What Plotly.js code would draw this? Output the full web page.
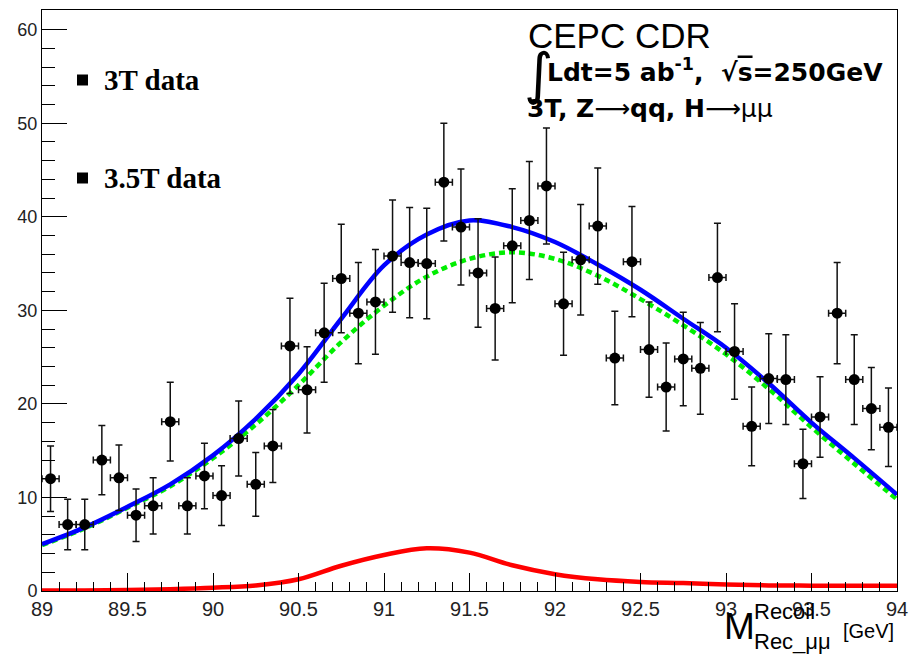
<!DOCTYPE html>
<html>
<head>
<meta charset="utf-8">
<script src="https://cdn.plot.ly/plotly-3.0.1.min.js"></script>
<style>html,body{margin:0;padding:0;background:#fff;}#chart{width:913px;height:656px;}</style>
</head>
<body>
<div id="chart"></div>
<script>
// ---- data: bin centres and counts ----
const binCenters = [89.05,89.15,89.25,89.35,89.45,89.55,89.65,89.75,89.85,89.95,
  90.05,90.15,90.25,90.35,90.45,90.55,90.65,90.75,90.85,90.95,
  91.05,91.15,91.25,91.35,91.45,91.55,91.65,91.75,91.85,91.95,
  92.05,92.15,92.25,92.35,92.45,92.55,92.65,92.75,92.85,92.95,
  93.05,93.15,93.25,93.35,93.45,93.55,93.65,93.75,93.85,93.95];
const counts = [12.0,7.1,7.1,14.0,12.1,8.1,9.1,18.1,9.1,12.3,
  10.2,16.3,11.4,15.5,26.2,21.5,27.6,33.4,29.7,30.9,
  35.8,35.1,35.0,43.7,38.9,34.0,30.2,36.9,39.6,43.3,
  30.7,35.4,39.0,24.9,35.2,25.8,21.8,24.8,23.8,33.5,
  25.6,17.6,22.7,22.6,13.6,18.6,29.7,22.6,19.5,17.5];
const countErrors = [3.5,2.7,2.7,3.7,3.5,2.8,3.0,4.2,3.0,3.5,
  3.2,4.0,3.4,3.9,5.1,4.6,5.3,5.8,5.4,5.6,
  6.0,5.9,5.9,6.3,6.2,5.8,5.5,6.1,6.3,6.2,
  5.5,5.9,6.2,5.0,5.9,5.1,4.7,5.0,4.9,5.8,
  5.1,4.2,4.8,4.8,3.7,4.3,5.4,4.8,4.4,4.2];
const binHalfWidth = [0.05];

// ---- fit curves ----
const curveX = [89.0,89.25,89.5,89.75,90.0,90.25,90.5,90.75,91.0,91.25,91.5,
  91.75,92.0,92.25,92.5,92.75,93.0,93.25,93.5,93.75,94.0];
const totalFit = [5.0,6.8,9.0,11.4,14.5,18.4,23.2,29.1,34.8,38.1,39.6,
  38.9,37.3,34.9,32.2,29.1,26.0,22.2,18.0,14.2,10.3];
const backgroundFit = [4.9,6.7,8.9,11.2,14.2,17.8,22.0,26.6,30.5,33.6,35.5,
  36.2,35.5,33.7,31.2,28.4,25.3,21.6,17.5,13.6,9.8];
const signalFit = [0.05,0.05,0.1,0.2,0.35,0.6,1.25,2.7,3.85,4.56,4.1,
  2.75,1.8,1.25,0.97,0.85,0.7,0.6,0.57,0.55,0.55];

const legendLabels = ["3T data", "3.5T data"];
const xTickVals = [89,89.5,90,90.5,91,91.5,92,92.5,93,93.5,94];
const xTickText = ["89","89.5","90","90.5","91","91.5","92","92.5","93","93.5","94"];

// ---- geometry helpers (pixel -> paper) ----
const L = 42, R = 897, T = 10, B = 591;
const px = x => (x - L) / (R - L);
const py = y => (B - y) / (B - T);

const traces = [
  { x: curveX, y: signalFit, mode: 'lines', line: {color: '#ff0000', width: 4.5, shape: 'spline'}, hoverinfo: 'skip', showlegend: false },
  { x: curveX, y: backgroundFit, mode: 'lines', line: {color: '#00ee00', width: 4.5, dash: '6px,4px', shape: 'spline'}, hoverinfo: 'skip', showlegend: false },
  { x: curveX, y: totalFit, mode: 'lines', line: {color: '#0000ff', width: 4.5, shape: 'spline'}, hoverinfo: 'skip', showlegend: false },
  { x: binCenters, y: counts, mode: 'markers', type: 'scatter',
    marker: {color: '#000', size: 11, symbol: 'circle'},
    error_y: {type: 'data', array: countErrors, visible: true, color: '#111', thickness: 1.5, width: 3.5},
    error_x: {type: 'constant', value: binHalfWidth[0], visible: true, color: '#111', thickness: 1.5, width: 3.5},
    hoverinfo: 'skip', showlegend: false }
];

const tickFont = {family: 'Liberation Sans, Arial, sans-serif', size: 20, color: '#222'};
const boldSans = {family: 'DejaVu Sans, sans-serif', size: 25, color: '#000'};
const annotations = [
  // legend texts
  {xref:'paper', yref:'paper', x: px(102), y: py(80), xanchor:'left', yanchor:'middle', showarrow:false,
   text: '<b>' + legendLabels[0] + '</b>', font:{family:'Liberation Serif, Times New Roman, serif', size: 29, color:'#000'}},
  {xref:'paper', yref:'paper', x: px(102), y: py(178), xanchor:'left', yanchor:'middle', showarrow:false,
   text: '<b>' + legendLabels[1] + '</b>', font:{family:'Liberation Serif, Times New Roman, serif', size: 29, color:'#000'}},
  // top-right labels
  {xref:'paper', yref:'paper', x: px(526), y: py(36), xanchor:'left', yanchor:'middle', showarrow:false,
   text: 'CEPC CDR', font:{family:'Liberation Sans, Arial, sans-serif', size: 35, color:'#000'}},
  {xref:'paper', yref:'paper', x: px(522), y: py(73), xanchor:'left', yanchor:'middle', showarrow:false,
   text: '∫', font:{family:'DejaVu Sans, sans-serif', size: 56, color:'#000'}},
  {xref:'paper', yref:'paper', x: px(545), y: py(70), xanchor:'left', yanchor:'middle', showarrow:false,
   text: '<b>Ldt=5 ab<sup>-1</sup>,  √<span style="text-decoration:overline">s</span>=250GeV</b>', font: boldSans},
  {xref:'paper', yref:'paper', x: px(525), y: py(108), xanchor:'left', yanchor:'middle', showarrow:false,
   text: '<b>3T, Z</b>⟶<b>qq, H</b>⟶μμ', font: boldSans}
  ,
  // x-axis title pieces
  {xref:'paper', yref:'paper', x: px(722), y: py(626), xanchor:'left', yanchor:'middle', showarrow:false,
   text: 'M', font:{family:'Liberation Sans, Arial, sans-serif', size: 37, color:'#000'}},
  {xref:'paper', yref:'paper', x: px(752), y: py(611), xanchor:'left', yanchor:'middle', showarrow:false,
   text: 'Recoil', font:{family:'Liberation Sans, Arial, sans-serif', size: 22, color:'#000'}},
  {xref:'paper', yref:'paper', x: px(752), y: py(642), xanchor:'left', yanchor:'middle', showarrow:false,
   text: 'Rec_μμ', font:{family:'Liberation Sans, Arial, sans-serif', size: 22, color:'#000'}},
  {xref:'paper', yref:'paper', x: px(841), y: py(631), xanchor:'left', yanchor:'middle', showarrow:false,
   text: '[GeV]', font:{family:'Liberation Sans, Arial, sans-serif', size: 20, color:'#000'}}
];

const shapes = [
  {type:'rect', xref:'paper', yref:'paper', x0: px(77), x1: px(88), y0: py(85.5), y1: py(74.5), fillcolor:'#000', line:{width:0}},
  {type:'rect', xref:'paper', yref:'paper', x0: px(77), x1: px(88), y0: py(183.5), y1: py(172.5), fillcolor:'#000', line:{width:0}}
];

const layout = {
  width: 913, height: 656,
  margin: {l: L, r: 913 - R, t: T, b: 656 - B},
  paper_bgcolor: '#fff', plot_bgcolor: '#fff',
  showlegend: false,
  xaxis: {
    range: [89, 94], tickvals: xTickVals, ticktext: xTickText,
    ticks: 'inside', ticklen: 18, tickwidth: 1, tickcolor: '#000',
    minor: {dtick: 0.1, tick0: 89, ticks: 'inside', ticklen: 9, tickwidth: 1, tickcolor: '#000', showgrid: false},
    showline: true, linecolor: '#000', linewidth: 1, mirror: true,
    showgrid: false, zeroline: false, tickfont: tickFont, ticklabelstandoff: 0
  },
  yaxis: {
    range: [0, 62.1], dtick: 10, tick0: 0,
    ticks: 'inside', ticklen: 25, tickwidth: 1, tickcolor: '#000',
    minor: {dtick: 2, ticks: 'inside', ticklen: 13, tickwidth: 1, tickcolor: '#000', showgrid: false},
    showline: true, linecolor: '#000', linewidth: 1, mirror: true,
    showgrid: false, zeroline: false, tickfont: {family: 'Liberation Sans, Arial, sans-serif', size: 18, color: '#222'}
  },
  annotations: annotations,
  shapes: shapes
};

Plotly.newPlot('chart', traces, layout, {staticPlot: true, displayModeBar: false});
</script>
</body>
</html>
